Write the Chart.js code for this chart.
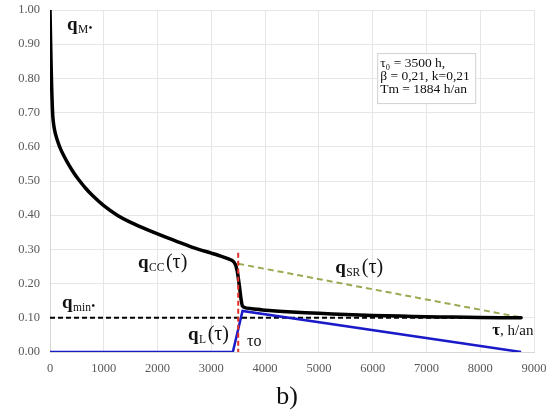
<!DOCTYPE html>
<html>
<head>
<meta charset="utf-8">
<script src="https://cdn.jsdelivr.net/npm/chart.js@4/dist/chart.umd.min.js"></script>
<style>
html,body{margin:0;padding:0;background:#fff;}
#wrap{width:551px;height:413px;position:relative;}
</style>
</head>
<body>
<div id="wrap"><canvas id="c" width="551" height="413"></canvas></div>
<script>
// ---- data ----
const xTicks = [0,1000,2000,3000,4000,5000,6000,7000,8000,9000];
const yTicks = [0,0.1,0.2,0.3,0.4,0.5,0.6,0.7,0.8,0.9,1.0];

const tauM = [0, 15, 30, 45, 60, 90, 130, 180, 250, 350, 450, 528, 650, 800, 1000, 1250, 1500, 1850, 2200, 2650, 3000, 3200, 3380, 3440, 3480, 3520, 3555, 3580, 3640, 3800, 4000, 4500, 5000, 5500, 6000, 6500, 7000, 7500, 8000, 8760];
const qM   = [1.00, 0.88, 0.78, 0.71, 0.675, 0.645, 0.622, 0.600, 0.576, 0.547, 0.522, 0.505, 0.481, 0.456, 0.428, 0.400, 0.379, 0.355, 0.333, 0.306, 0.289, 0.279, 0.268, 0.258, 0.238, 0.195, 0.152, 0.134, 0.129, 0.126, 0.122, 0.117, 0.113, 0.110, 0.107, 0.105, 0.103, 0.102, 0.101, 0.100];

const tauL = [0, 3400, 3580, 8760];
const qL   = [0, 0, 0.12, 0];

const tauSR = [3500, 8760];
const qSR   = [0.258, 0.101];

const tauMin = [0, 8760];
const qMin   = [0.10, 0.10];

const tauRed = [3500, 3500];
const qRed   = [0.29, 0];

const zip = (xs, ys) => xs.map((x, i) => ({x: x, y: ys[i]}));

const serif = "'Liberation Serif','Times New Roman',serif";

// annotation anchors in data coordinates
const labels = [
  {tau: 316,  q: 0.942, main: 'q', sub: 'M', star: true, suffix: ''},
  {tau: 1637, q: 0.246, main: 'q', sub: 'CC', suffix: '(τ)'},
  {tau: 5302, q: 0.231, main: 'q', sub: 'SR', suffix: '(τ)'},
  {tau: 223,  q: 0.129, main: 'q', sub: 'min', star: true, suffix: ''},
  {tau: 2567, q: 0.035, main: 'q', sub: 'L', suffix: '(τ)'}
];
const boxAnchor = {tau: 6084, q: 0.874};
const boxLines = ['τ\u2080 = 3500 h,', 'β = 0,21, k=0,21', 'Tm = 1884 h/an'];

const annot = {
  id: 'annot',
  afterDatasetsDraw(chart) {
    const ctx = chart.ctx, xs = chart.scales.x, ys = chart.scales.y;
    ctx.save();
    ctx.fillStyle = '#111';
    ctx.textBaseline = 'alphabetic';
    ctx.textAlign = 'left';
    for (const l of labels) {
      let px = xs.getPixelForValue(l.tau), py = ys.getPixelForValue(l.q);
      ctx.font = 'bold 19px ' + serif;
      ctx.fillText(l.main, px, py);
      px += ctx.measureText(l.main).width + 0.5;
      ctx.font = '11.5px ' + serif;
      ctx.fillText(l.sub, px, py + 3);
      px += ctx.measureText(l.sub).width + 0.5;
      if (l.star) {
        ctx.font = 'bold 10px ' + serif;
        ctx.fillText('•', px, py + 1);
      }
      if (l.suffix) {
        ctx.font = '20px ' + serif;
        ctx.fillText(l.suffix, px + 1, py);
      }
    }
    // tau_o
    ctx.font = '16px ' + serif;
    ctx.fillText('τo', xs.getPixelForValue(3665), ys.getPixelForValue(0.018));
    // tau, h/an
    let tx = xs.getPixelForValue(8223), ty = ys.getPixelForValue(0.050);
    ctx.font = 'bold 17px ' + serif;
    ctx.fillText('τ', tx, ty);
    tx += ctx.measureText('τ').width;
    ctx.font = '15px ' + serif;
    ctx.fillText(', h/an', tx, ty);
    // parameter box
    const bx = xs.getPixelForValue(boxAnchor.tau), by = ys.getPixelForValue(boxAnchor.q);
    ctx.fillStyle = '#fff';
    ctx.fillRect(bx, by, 98, 50);
    ctx.strokeStyle = '#d0d0d0';
    ctx.lineWidth = 1;
    ctx.strokeRect(bx + 0.5, by + 0.5, 98, 50);
    ctx.fillStyle = '#111';
    ctx.font = '13.5px ' + serif;
    boxLines.forEach((s, i) => ctx.fillText(s, bx + 3, by + 14 + i * 13));
    // caption
    ctx.font = '26px ' + serif;
    ctx.textAlign = 'center';
    ctx.fillText('b)', 287, 404);
    ctx.restore();
  }
};

const ds = (data, color, width, dash, extra) => Object.assign({
  data: data, borderColor: color, backgroundColor: color, borderWidth: width,
  borderDash: dash, pointRadius: 0, fill: false, tension: 0
}, extra || {});

new Chart(document.getElementById('c'), {
  type: 'line',
  data: {
    datasets: [
      ds(zip(tauRed, qRed), '#e0302a', 2, [5, 3]),
      ds(zip(tauM, qM), '#000000', 3.5, [], {tension: 0.2, borderJoinStyle: 'round', borderCapStyle: 'round'}),
      ds(zip(tauL, qL), '#1a1ac8', 2.5, []),
      ds(zip(tauSR, qSR), '#9da852', 2, [6, 4]),
      ds(zip(tauMin, qMin), '#000000', 2, [5, 3])
    ]
  },
  options: {
    responsive: false,
    animation: false,
    layout: {padding: {left: 0, top: 10, right: 17, bottom: 39}},
    plugins: {legend: {display: false}, tooltip: {enabled: false}},
    scales: {
      x: {
        type: 'linear', min: 0, max: 9000,
        afterBuildTicks: s => { s.ticks = xTicks.map(v => ({value: v})); },
        afterFit: s => { s.height = 22; },
        grid: {color: '#e6e6e6', drawTicks: true, tickLength: 9, tickColor: 'rgba(0,0,0,0)'},
        border: {color: '#d6d6d6'},
        ticks: {padding: 0, color: '#595959', font: {family: serif, size: 12.5}, callback: v => String(v)}
      },
      y: {
        type: 'linear', min: 0, max: 1,
        afterBuildTicks: s => { s.ticks = yTicks.map(v => ({value: v})); },
        afterFit: s => { s.width = 50; },
        grid: {color: '#e6e6e6', drawTicks: true, tickLength: 10, tickColor: 'rgba(0,0,0,0)'},
        border: {color: '#d6d6d6'},
        ticks: {padding: 0, color: '#595959', font: {family: serif, size: 12.5}, callback: v => Number(v).toFixed(2)}
      }
    }
  },
  plugins: [annot]
});
</script>
</body>
</html>
